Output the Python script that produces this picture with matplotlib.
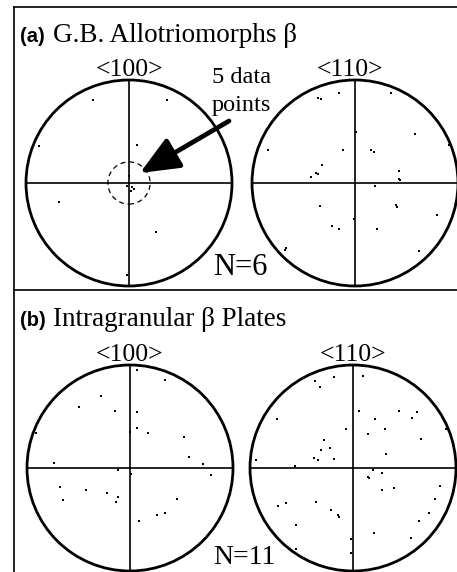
import matplotlib
matplotlib.use("Agg")
import matplotlib.pyplot as plt
from matplotlib.patches import Circle

# Pole figure data: projected pole positions on the unit stereographic circle
# (a) grain-boundary allotriomorphs
gb100_x = [-0.35, 0.37, -0.87, 0.08, 0.00, 0.03, 0.05, 0.02, -0.02, -0.68, 0.26, -0.90, -0.02]
gb100_y = [0.81, 0.81, 0.36, 0.37, 0.07, -0.04, -0.06, -0.08, -0.03, -0.18, -0.48, -0.42, -0.89]

gb110_x = [-0.36, -0.33, -0.16, 0.35, 0.01, 0.58, 0.91, 0.93, -0.84, -0.12, 0.16, 0.18,
           -0.32, -0.38, -0.36, -0.43, 0.43, 0.43, 0.44, 0.19, -0.34, 0.40, 0.41, 0.80,
           -0.01, -0.22, -0.16, 0.21, -0.67, -0.68, 0.62]
gb110_y = [0.83, 0.82, 0.87, 0.87, 0.50, 0.48, 0.37, 0.36, 0.32, 0.32, 0.32, 0.30,
           0.17, 0.10, 0.09, 0.06, 0.12, 0.04, 0.03, -0.03, -0.22, -0.21, -0.23, -0.31,
           -0.35, -0.42, -0.45, -0.45, -0.63, -0.65, -0.66]

# (b) intragranular plates
ip100_x = [0.07, 0.34, -0.28, -0.50, -0.15, 0.07, -0.91, 0.07, 0.00, 0.17, 0.52, 0.57,
           -0.74, 0.71, -0.12, 0.01, 0.79, -0.68, -0.43, -0.22, -0.12, -0.14, -0.65,
           0.46, 0.26, 0.34, 0.09]
ip100_y = [0.95, 0.85, 0.70, 0.59, 0.55, 0.54, 0.34, 0.39, 0.35, 0.34, 0.30, 0.11,
           0.05, 0.04, -0.02, -0.06, -0.07, -0.18, -0.21, -0.24, -0.28, -0.33, -0.31,
           -0.30, -0.46, -0.44, -0.51]

ip110_x = [-0.37, -0.32, -0.18, 0.10, -0.74, 0.06, 0.45, 0.57, 0.62, 0.21, 0.31, -0.07,
           0.15, 0.90, 0.66, -0.28, -0.31, -0.22, 0.32, -0.38, -0.34, -0.18, -0.94,
           -0.56, 0.19, 0.28, 0.15, 0.16, 0.28, 0.40, 0.84, 0.80, -0.73, -0.65, -0.36,
           -0.21, -0.15, -0.14, 0.74, -0.55, 0.64, 0.20, 0.56, -0.02, -0.55, -0.02]
ip110_y = [0.84, 0.79, 0.88, 0.89, 0.48, 0.55, 0.55, 0.49, 0.54, 0.48, 0.38, 0.38,
           0.33, 0.38, 0.28, 0.27, 0.17, 0.19, 0.14, 0.10, 0.08, 0.09, 0.08,
           0.02, -0.02, -0.05, -0.09, -0.10, -0.21, -0.19, -0.17, -0.30, -0.37, -0.34,
           -0.33, -0.41, -0.46, -0.48, -0.44, -0.55, -0.51, -0.63, -0.68, -0.69, -0.79,
           -0.83]

pole_labels = ["<100>", "<110>", "<100>", "<110>"]
panel_tags = ["(a)", "(b)"]
panel_titles = ["G.B. Allotriomorphs β", "Intragranular β Plates"]
count_labels = ["N=6", "N=11"]

W, H = 457, 572
SERIF = "Liberation Serif"

fig = plt.figure(figsize=(W / 100, H / 100), dpi=100)
bg = fig.add_axes([0, 0, 1, 1])
bg.set_xlim(0, W)
bg.set_ylim(H, 0)
bg.axis("off")

# outer frame and panel divider
bg.plot([14, 14], [7, H], color="k", lw=1.2)
bg.plot([14, W], [7, 7], color="k", lw=1.2)
bg.plot([14, W], [290, 290], color="k", lw=1.2)


def pole_axes(cx, cy, r, xs, ys):
    ax = fig.add_axes([(cx - r) / W, 1 - (cy + r) / H, 2 * r / W, 2 * r / H])
    ax.set_xlim(-1, 1)
    ax.set_ylim(-1, 1)
    ax.axis("off")
    ax.add_patch(Circle((0, 0), 1, fill=False, lw=2.0, color="k", clip_on=False))
    ax.plot([-1, 1], [0, 0], color="k", lw=1.2, clip_on=False)
    ax.plot([0, 0], [-1, 1], color="k", lw=1.2, clip_on=False)
    ax.plot(xs, ys, "s", color="k", ms=2.0, mew=0, clip_on=False)
    return ax


R = 103
ax_a100 = pole_axes(129, 183, R, gb100_x, gb100_y)
pole_axes(355, 183, R, gb110_x, gb110_y)
pole_axes(130, 468, R, ip100_x, ip100_y)
pole_axes(353, 468, R, ip110_x, ip110_y)

# dashed ring around the cluster and arrow pointing at it
ax_a100.add_patch(Circle((0, 0), 0.205, fill=False, lw=0.9, color="k",
                         linestyle=(0, (4, 3))))
bg.annotate("", xy=(140, 173), xytext=(229, 121),
            arrowprops=dict(arrowstyle="-|>,head_length=1.4,head_width=0.6",
                            lw=3.4, color="k", mutation_scale=17,
                            shrinkA=0, shrinkB=0))

# pole labels
for (x, y), lab in zip([(130, 76.5), (350, 76.5), (130, 361), (353, 361)], pole_labels):
    bg.text(x, y, lab, family=SERIF, fontsize=18.5, ha="center", va="baseline")

# panel titles
for y, tag, title in zip([41.5, 326.5], panel_tags, panel_titles):
    bg.text(20, y, tag, family="Liberation Sans", fontweight="bold",
            fontsize=14.5, ha="left", va="baseline")
    bg.text(53, y, title, family=SERIF, fontsize=19.5, ha="left", va="baseline")

bg.text(212, 83, "5 data", family=SERIF, fontsize=17.5, ha="left", va="baseline")
bg.text(212, 111, "points", family=SERIF, fontsize=17.5, ha="left", va="baseline")

bg.text(213, 275, count_labels[0], family=SERIF, fontsize=22, ha="left", va="baseline")
bg.text(213, 564, count_labels[1], family=SERIF, fontsize=20, ha="left", va="baseline")

fig.savefig("out.png", dpi=100)
